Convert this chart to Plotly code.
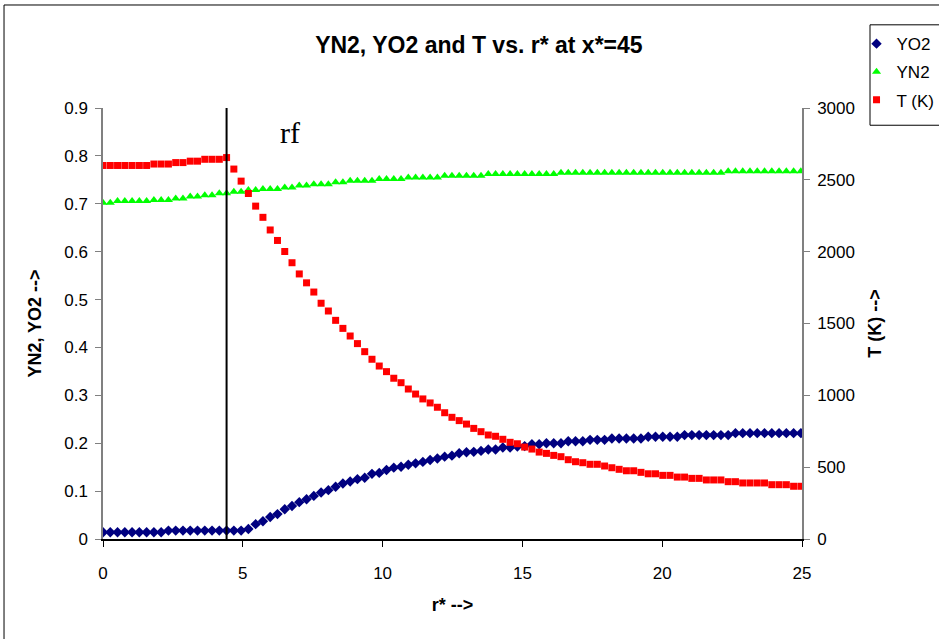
import plotly.graph_objects as go

# Radial grid r* (97 stations)
r_star = [
    0.00, 0.26, 0.52, 0.78, 1.04, 1.30, 1.56, 1.82, 2.08, 2.34,
    2.60, 2.86, 3.12, 3.38, 3.64, 3.90, 4.16, 4.42, 4.68, 4.94,
    5.20, 5.46, 5.72, 5.98, 6.24, 6.50, 6.76, 7.02, 7.28, 7.54,
    7.80, 8.06, 8.32, 8.58, 8.84, 9.10, 9.36, 9.62, 9.88, 10.14,
    10.40, 10.66, 10.92, 11.18, 11.44, 11.70, 11.96, 12.22, 12.48, 12.74,
    13.00, 13.26, 13.52, 13.78, 14.04, 14.30, 14.56, 14.82, 15.08, 15.34,
    15.60, 15.86, 16.12, 16.38, 16.64, 16.90, 17.16, 17.42, 17.68, 17.94,
    18.20, 18.46, 18.72, 18.98, 19.24, 19.50, 19.76, 20.02, 20.28, 20.54,
    20.80, 21.06, 21.32, 21.58, 21.84, 22.10, 22.36, 22.62, 22.88, 23.14,
    23.40, 23.66, 23.92, 24.18, 24.44, 24.70, 24.96,
]

# Oxygen mass fraction
yo2 = [
    0.014, 0.014, 0.014, 0.014, 0.014, 0.014, 0.014, 0.014, 0.014, 0.0175,
    0.0175, 0.0175, 0.0175, 0.0175, 0.0175, 0.0175, 0.0175, 0.0175, 0.0175, 0.0175,
    0.021, 0.031, 0.037, 0.046, 0.052, 0.062, 0.069, 0.077, 0.083, 0.090,
    0.097, 0.102, 0.109, 0.116, 0.120, 0.125, 0.128, 0.136, 0.138, 0.144,
    0.149, 0.151, 0.155, 0.158, 0.161, 0.165, 0.168, 0.172, 0.174, 0.179,
    0.181, 0.182, 0.184, 0.187, 0.187, 0.191, 0.191, 0.193, 0.194, 0.198,
    0.198, 0.200, 0.200, 0.200, 0.204, 0.204, 0.204, 0.207, 0.207, 0.207,
    0.210, 0.210, 0.210, 0.210, 0.210, 0.2135, 0.2135, 0.2135, 0.2135, 0.2135,
    0.217, 0.217, 0.217, 0.217, 0.217, 0.217, 0.217, 0.221, 0.221, 0.221,
    0.221, 0.221, 0.221, 0.221, 0.221, 0.221, 0.221,
]

# Nitrogen mass fraction
yn2 = [
    0.702, 0.702, 0.706, 0.706, 0.706, 0.706, 0.706, 0.708, 0.708, 0.708,
    0.711, 0.711, 0.715, 0.715, 0.718, 0.718, 0.722, 0.722, 0.725, 0.725,
    0.729, 0.729, 0.731, 0.731, 0.731, 0.734, 0.734, 0.738, 0.738, 0.741,
    0.741, 0.741, 0.745, 0.745, 0.748, 0.748, 0.748, 0.748, 0.752, 0.752,
    0.752, 0.752, 0.755, 0.755, 0.755, 0.755, 0.755, 0.7585, 0.7585, 0.7585,
    0.7585, 0.7585, 0.7585, 0.762, 0.762, 0.762, 0.762, 0.762, 0.762, 0.762,
    0.762, 0.762, 0.762, 0.765, 0.765, 0.765, 0.765, 0.765, 0.765, 0.765,
    0.765, 0.765, 0.765, 0.765, 0.765, 0.765, 0.765, 0.765, 0.765, 0.765,
    0.765, 0.765, 0.765, 0.765, 0.765, 0.765, 0.768, 0.768, 0.768, 0.768,
    0.768, 0.768, 0.768, 0.768, 0.768, 0.768, 0.768,
]

# Temperature (K)
temp_k = [
    2600, 2600, 2600, 2600, 2600, 2600, 2600, 2610, 2610, 2610,
    2620, 2620, 2630, 2630, 2643, 2643, 2643, 2655, 2575, 2491,
    2405, 2317, 2239, 2151, 2078, 2001, 1923, 1845, 1783, 1719,
    1641, 1587, 1522, 1466, 1413, 1360, 1304, 1251, 1204, 1165,
    1119, 1088, 1044, 1009, 975, 947, 917, 879, 847, 824,
    800, 770, 747, 724, 715, 694, 673, 663, 640, 626,
    605, 596, 582, 573, 552, 538, 531, 520, 520, 508,
    496, 485, 475, 475, 464, 454, 454, 443, 443, 431,
    431, 422, 422, 411, 411, 411, 399, 399, 390, 390,
    390, 390, 378, 378, 378, 367, 367,
]

# Flame radius marker
r_flame = 4.42

FONT = "Liberation Sans, Arial, sans-serif"

fig = go.Figure()
fig.add_trace(go.Scatter(
    x=r_star, y=yo2, name="YO2", mode="markers", legendgroup="a",
    marker=dict(symbol="diamond", size=8, color="#000080"),
))
fig.add_trace(go.Scatter(
    x=r_star, y=yn2, name="YN2", mode="markers", legendgroup="b",
    marker=dict(symbol="triangle-up", size=8, color="#00FF00"),
))
fig.add_trace(go.Scatter(
    x=r_star, y=temp_k, name="T (K)", mode="markers", legendgroup="c",
    marker=dict(symbol="square", size=7, color="#FF0000"), yaxis="y2",
))

shapes = [
    # flame-radius line
    dict(type="line", xref="x", yref="paper", x0=r_flame, x1=r_flame,
         y0=0, y1=1, line=dict(color="black", width=2)),
    # outer chart frame
    dict(type="rect", xref="paper", yref="paper", x0=-0.1416, x1=1.35,
         y0=-0.3, y1=1.239, line=dict(color="black", width=1)),
    # legend frame
    dict(type="rect", xref="paper", yref="paper", x0=1.0973, x1=1.35,
         y0=0.960, y1=1.193, line=dict(color="black", width=1)),
]

fig.update_layout(
    width=939, height=639,
    margin=dict(l=103, r=137, t=108, b=100, autoexpand=False),
    paper_bgcolor="white", plot_bgcolor="white",
    font=dict(family=FONT, size=17, color="black"),
    title=dict(text="<b>YN2, YO2 and T vs. r* at x*=45</b>", x=0.51, xanchor="center",
               y=0.93, yanchor="middle", font=dict(size=23, family=FONT)),
    xaxis=dict(range=[0, 25], tickmode="linear", tick0=0, dtick=5,
               showgrid=False, zeroline=False, showline=True, linecolor="black",
               linewidth=1.5, ticks="outside", ticklen=6, tickcolor="black",
               ticklabelstandoff=12,
               title=dict(text="<b>r* --></b>", font=dict(size=18), standoff=16)),
    yaxis=dict(range=[0, 0.9], tickmode="linear", tick0=0, dtick=0.1,
               showgrid=False, zeroline=False, showline=True, linecolor="#808080",
               linewidth=1.5, ticks="outside", ticklen=6, tickcolor="#808080",
               ticklabelstandoff=4,
               title=dict(text="<b>YN2, YO2 --></b>", font=dict(size=18), standoff=18)),
    yaxis2=dict(range=[0, 3000], tickmode="linear", tick0=0, dtick=500,
                overlaying="y", side="right", showgrid=False, zeroline=False,
                showline=True, linecolor="#808080", linewidth=1.5,
                ticks="outside", ticklen=6, tickcolor="#808080",
                ticklabelstandoff=4,
                title=dict(text="<b>T (K) --></b>", font=dict(size=18), standoff=14)),
    legend=dict(x=1.078, y=1.19, xanchor="left", yanchor="top",
                borderwidth=0, bgcolor="rgba(0,0,0,0)",
                font=dict(size=17), tracegroupgap=3, traceorder="grouped"),
    shapes=shapes,
    annotations=[
        dict(x=6.7, y=0.848, xref="x", yref="y", text="rf", showarrow=False,
             font=dict(family="Liberation Serif, Times New Roman, serif", size=30,
                       color="black")),
    ],
)

fig.write_html("out.html")
